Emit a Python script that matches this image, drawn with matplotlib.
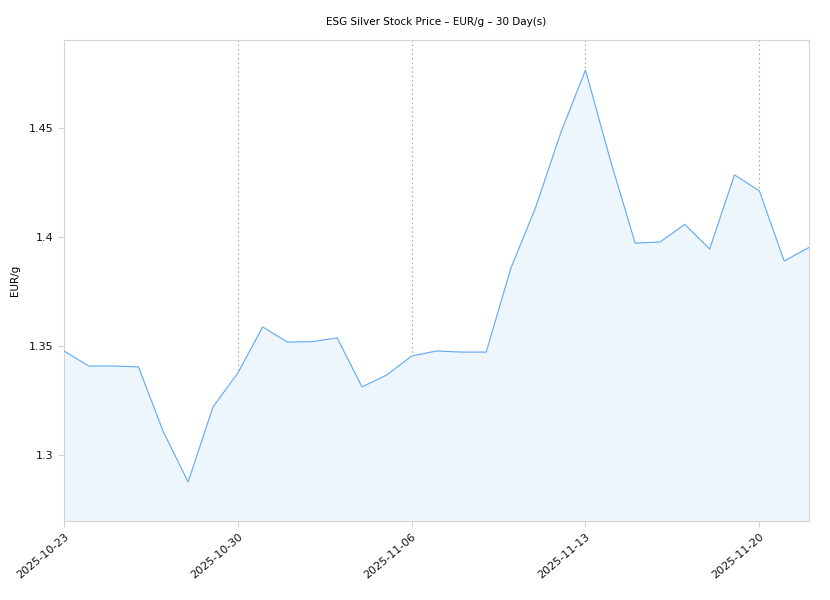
import numpy as np
import pandas as pd
import matplotlib
matplotlib.use("Agg")
import matplotlib.pyplot as plt
import matplotlib.dates as mdates
from matplotlib.ticker import FuncFormatter

# daily price, EUR per gram
dates = pd.date_range("2025-10-23", "2025-11-22", freq="D")
prices = [1.3477, 1.3408, 1.3408, 1.3404, 1.3106, 1.2876, 1.3220, 1.3376,
          1.3587, 1.3518, 1.3520, 1.3537, 1.3312, 1.3367, 1.3454, 1.3477,
          1.3472, 1.3472, 1.3858, 1.4138, 1.4477, 1.4766, 1.4353, 1.3972,
          1.3977, 1.4058, 1.3945, 1.4285, 1.4212, 1.3890, 1.3952]
tick_dates = pd.to_datetime(["2025-10-23", "2025-10-30", "2025-11-06",
                             "2025-11-13", "2025-11-20"])
y_ticks = [1.3, 1.35, 1.4, 1.45]

fig = plt.figure(figsize=(8.3, 6.0), dpi=100)
ax = fig.add_axes([0.0771, 0.1317, 0.8976, 0.8016])

ax.fill_between(dates, prices, 1.2, color="#edf6fd", zorder=2)
ax.plot(dates, prices, color="#64aaf2", lw=0.8, zorder=3)

ax.set_xlim(dates[0], dates[-1])
ax.set_ylim(1.2697, 1.4904)
ax.set_xticks(tick_dates)
ax.xaxis.set_major_formatter(mdates.DateFormatter("%Y-%m-%d"))
ax.set_yticks(y_ticks)
ax.yaxis.set_major_formatter(FuncFormatter(lambda v, p: "%g" % v))

ax.grid(axis="x", color="#888888", linestyle=(0, (1, 3)), lw=0.8, zorder=1)
ax.set_axisbelow(True)

for s in ax.spines.values():
    s.set_color("#d4d4d4")
ax.tick_params(colors="#d4d4d4", labelcolor="#111111", labelsize=8, length=4, width=0.8)
plt.setp(ax.get_xticklabels(), rotation=40, ha="right", rotation_mode="anchor")

ax.set_ylabel("EUR/g", fontsize=7.5, labelpad=6)
ax.set_title("ESG Silver Stock Price \u2013 EUR/g \u2013 30 Day(s)", fontsize=7.5, pad=11)

fig.savefig("out.png", dpi=100)
